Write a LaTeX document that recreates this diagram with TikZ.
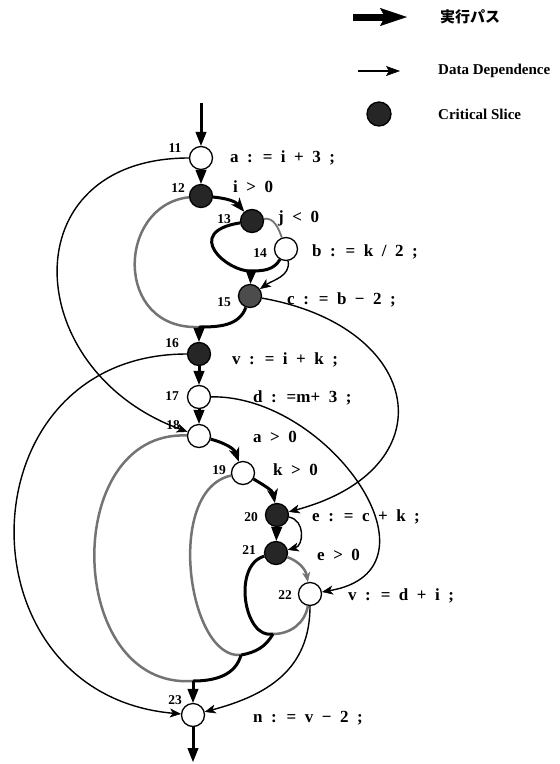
\documentclass[tikz,border=0pt]{standalone}
\usepackage{fontspec}
\setmainfont{Liberation Serif}
\newfontfamily\jpfont{Noto Sans CJK JP}
\usetikzlibrary{arrows.meta}

\begin{document}
\begin{tikzpicture}[x=1pt, y=1pt,
    vtx/.style={circle, draw, line width=1.3pt, fill=white, minimum size=23pt, inner sep=0pt},
    crit/.style={vtx, fill=black!85},
    num/.style={font=\fontsize{13.5}{13.5}\selectfont\bfseries, inner sep=0pt},
    stmt/.style={anchor=west, inner sep=0pt, font={\fontsize{17}{17}\selectfont\bfseries\spaceskip=8.5pt\relax}},
    legtext/.style={anchor=west, inner sep=0pt, font=\fontsize{15}{15}\selectfont\bfseries},
    cf/.style={line width=3pt},
    cfa/.style={cf, -{Stealth[length=14pt, width=11pt, inset=4pt, line width=1pt]}},
    cfv/.style={cf, -{Triangle[length=14pt, width=11pt, line width=1pt]}},
    cfn/.style={line width=2.5pt, draw=black!55},
    dd/.style={line width=1.4pt, -{Stealth[length=11pt, width=9pt, inset=3pt, line width=0.5pt]}}]
    \useasboundingbox (0,0) rectangle (560,-764);
    \node[vtx]  (n11) at (201,-158) {};
    \node[crit] (n12) at (201,-196) {};
    \node[crit] (n13) at (252,-221) {};
    \node[vtx]  (n14) at (286,-249) {};
    \node[crit, fill=black!70] (n15) at (250,-296) {};
    \node[crit] (n16) at (199,-354) {};
    \node[vtx]  (n17) at (199,-397) {};
    \node[vtx]  (n18) at (199,-436) {};
    \node[vtx]  (n19) at (243,-473) {};
    \node[crit] (n20) at (277,-515) {};
    \node[crit] (n21) at (276,-553) {};
    \node[vtx]  (n22) at (310,-594) {};
    \node[vtx]  (n23) at (193,-715) {};
    \coordinate (top) at (201,-103);
    \coordinate (bot) at (193,-762);
    \coordinate (m13) at (251,-271);
    \coordinate (m12) at (199,-327);
    \coordinate (m21) at (273,-634);
    \coordinate (m19) at (241,-655);
    \coordinate (m18) at (193,-681);
    \draw[cfn] (n12) .. controls (117,-205) and (113,-330) .. (m12);
    \draw[cfn, line width=1.8pt] (n13) to[out=10, in=110] (n14);
    \draw[cfn] (n19) .. controls (164,-490) and (188,-660) .. (m19);
    \draw[cfn] (n18) .. controls (60,-430) and (65,-690) .. (m18);
    \draw[cfn] (n22) to[out=-100, in=0] (m21);
    \draw[cfn, -{Stealth[length=10pt, width=8pt, line width=0.5pt]}] (n21) to[out=-20, in=100] (n22);
    \draw[cfv] (top) -- (n11);
    \draw[cfv] (n11) -- (n12);
    \draw[cfa] (n12) to[out=-5, in=130] (n13);
    \draw[cf] (n13) .. controls (182,-232) and (227,-272) .. (m13);
    \draw[cf] (n14) to[out=-120, in=0] (m13);
    \draw[cfv] (m13) -- (n15);
    \draw[cf] (n15) to[out=-110, in=0] (m12);
    \draw[cfv] (m12) -- (n16);
    \draw[cfv] (n16) -- (n17);
    \draw[cfv] (n17) -- (n18);
    \draw[cfa] (n18) to[out=-15, in=110] (n19);
    \draw[cfa] (n19) to[out=-30, in=100] (n20);
    \draw[cfv] (n20) -- (n21);
    \draw[cf] (n21) .. controls (232,-565) and (244,-640) .. (m21);
    \draw[cf] (m21) to[out=-120, in=10] (m19);
    \draw[cf] (m19) to[out=-105, in=0] (m18);
    \draw[cfv] (m18) -- (n23);
    \draw[cfv] (n23) -- (bot);
    \draw[dd] (n11) to[out=180, in=160, looseness=1.67] (n18);
    \draw[dd] (n15) to[out=-10, in=15, looseness=1.97] (n20);
    \draw[dd] (n16) to[out=180, in=175, looseness=1.6] (n23);
    \draw[dd] (n17) .. controls (330,-395) and (450,-570) .. (n22);
    \draw[dd] (n14) to[out=-80, in=35] (n15);
    \draw[dd] (n20) to[out=-10, in=15, looseness=1.3] (n21);
    \draw[dd] (n22) to[out=-90, in=15, looseness=1.1] (n23);
    \node[num] (l11) at (175,-148) {11};
    \node[num] (l12) at (178,-188) {12};
    \node[num] (l13) at (224,-219) {13};
    \node[num] (l14) at (260,-253) {14};
    \node[num] (l15) at (224,-302) {15};
    \node[num] (l16) at (172,-343) {16};
    \node[num] (l17) at (172,-396) {17};
    \node[num] (l18) at (173,-425) {18};
    \node[num] (l19) at (219,-470) {19};
    \node[num] (l20) at (251,-517) {20};
    \node[num] (l21) at (249,-550) {21};
    \node[num] (l22) at (285,-595) {22};
    \node[num] (l23) at (175,-700) {23};
    \node[stmt] (s11) at (230,-158) {a : = i + 3 ;};
    \node[stmt] (s12) at (233,-187) {i > 0};
    \node[stmt] (s13) at (278,-218) {j < 0};
    \node[stmt] (s14) at (312,-252) {b : = k / 2 ;};
    \node[stmt] (s15) at (287,-300) {c : = b − 2 ;};
    \node[stmt] (s16) at (232,-360) {v : = i + k ;};
    \node[stmt] (s17) at (253,-398) {d : =m+ 3 ;};
    \node[stmt] (s18) at (253,-437) {a > 0};
    \node[stmt] (s19) at (273,-470) {k > 0};
    \node[stmt] (s20) at (312,-517) {e : = c + k ;};
    \node[stmt] (s21) at (317,-555) {e > 0};
    \node[stmt] (s22) at (348,-596) {v : = d + i ;};
    \node[stmt] (s23) at (253,-718) {n : = v − 2 ;};
    \coordinate (k1) at (353,-17);
    \coordinate (k2) at (407,-17);
    \coordinate (k3) at (358,-71);
    \coordinate (k4) at (400,-71);
    \draw[line width=7pt, -{Stealth[length=27pt, width=18pt, inset=5pt, line width=0.5pt]}] (k1) -- (k2);
    \draw[line width=2.5pt, -{Stealth[length=14pt, width=10pt, inset=3pt, line width=0.5pt]}] (k3) -- (k4);
    \node[crit, minimum size=24pt] (k5) at (379,-114) {};
    \node[legtext] (t1) at (440,-17) {\jpfont 実行パス};
    \node[legtext] (t2) at (438,-71) {Data Dependence};
    \node[legtext] (t3) at (438,-114) {Critical Slice};
\end{tikzpicture}
\end{document}
